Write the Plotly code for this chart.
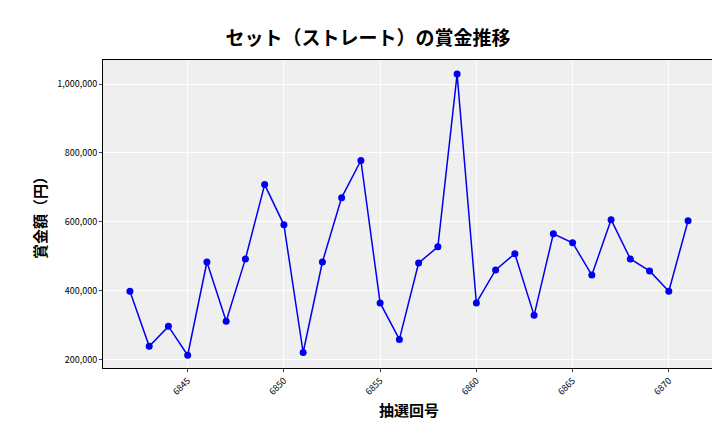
import plotly.graph_objects as go

draws = list(range(6842, 6872))
prizes = [398000, 238000, 296000, 212000, 483000, 311000, 492000, 708000, 591000, 220000,
          483000, 670000, 778000, 364000, 258000, 480000, 527000, 1029000, 364000, 460000,
          507000, 328000, 565000, 539000, 445000, 606000, 492000, 457000, 398000, 603000]
xticks = [6845, 6850, 6855, 6860, 6865, 6870]
yticks = [200000, 400000, 600000, 800000, 1000000]

font = "Noto Sans CJK JP"
fig = go.Figure(go.Scatter(x=draws, y=prizes, mode="lines+markers",
                           line=dict(color="#0000ee", width=1.5),
                           marker=dict(color="#0000ee", size=7)))
fig.update_layout(
    width=720, height=432, margin=dict(l=95, r=13, t=52, b=72, autoexpand=False),
    paper_bgcolor="white", plot_bgcolor="#efefef", showlegend=False,
    font=dict(family=font, color="black"),
    title=dict(text="<b>セット（ストレート）の賞金推移</b>", x=0.5, xanchor="center", y=0.945,
               font=dict(size=19, family=font)),
)
fig.update_xaxes(range=[6840.6, 6872.4], tickvals=xticks, tickangle=-45, automargin=False,
                 tickfont=dict(size=9), gridcolor="white", showline=True, linecolor="black",
                 mirror=True, ticks="outside", ticklen=3,
                 title=dict(text="<b>抽選回号</b>", font=dict(size=15), standoff=8))
fig.update_yaxes(range=[175000, 1070000], tickvals=yticks, tickformat=",d", automargin=False,
                 tickfont=dict(size=9), gridcolor="white", showline=True, linecolor="black",
                 mirror=True, ticks="outside", ticklen=3, zeroline=False,
                 title=dict(text="<b>賞金額（円）</b>", font=dict(size=15), standoff=6))
fig.write_html("out.html")
